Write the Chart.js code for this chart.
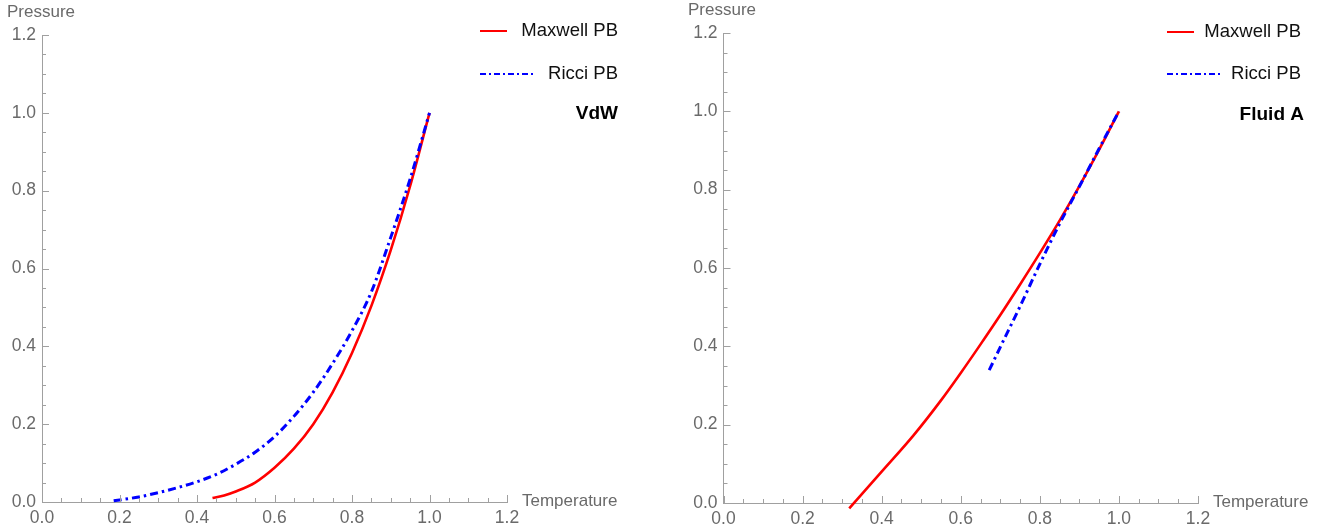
<!DOCTYPE html>
<html><head><meta charset="utf-8">
<script src="https://cdn.jsdelivr.net/npm/chart.js@4.4.1/dist/chart.umd.min.js"></script>
<style>
html,body{margin:0;padding:0;background:#fff;overflow:hidden;width:1322px;height:532px}
.p{position:absolute;top:0;width:661px;height:532px}
</style></head><body>
<div class="p" style="left:0"><canvas id="c1" width="661" height="532"></canvas></div>
<div class="p" style="left:661px"><canvas id="c2" width="661" height="532"></canvas></div>
<script>
// ---- data ----
const vdwMaxwellT = [0.44, 0.47, 0.50, 0.55, 0.60, 0.65, 0.70, 0.75, 0.80, 0.85, 0.90, 0.95, 1.00];
const vdwMaxwellP = [0.010, 0.017, 0.027, 0.050, 0.088, 0.137, 0.200, 0.282, 0.383, 0.504, 0.647, 0.812, 1.000];
const vdwRicciT = [0.185, 0.25, 0.30, 0.35, 0.40, 0.45, 0.50, 0.55, 0.60, 0.65, 0.70, 0.75, 0.80, 0.85, 0.90, 0.95, 1.00];
const vdwRicciP = [0.003, 0.013, 0.024, 0.037, 0.052, 0.071, 0.097, 0.128, 0.168, 0.220, 0.282, 0.356, 0.440, 0.540, 0.680, 0.830, 1.000];
const fluidMaxwellT = [0.318, 0.40, 0.48, 0.55, 0.60, 0.65, 0.70, 0.75, 0.80, 0.85, 0.90, 0.95, 1.00];
const fluidMaxwellP = [-0.014, 0.080, 0.172, 0.262, 0.332, 0.405, 0.480, 0.558, 0.638, 0.721, 0.809, 0.902, 1.000];
const fluidRicciT = [0.672, 0.70, 0.75, 0.80, 0.85, 0.90, 0.95, 1.00];
const fluidRicciP = [0.339, 0.398, 0.502, 0.610, 0.713, 0.808, 0.905, 1.000];
const majorTicks = [0, 0.2, 0.4, 0.6, 0.8, 1.0, 1.2];
const seriesNames = ['Maxwell PB', 'Ricci PB'];
const panelTitles = ['VdW', 'Fluid A'];
const xTitle = 'Temperature';
const yTitle = 'Pressure';

const FONT = "'Liberation Sans', Arial, sans-serif";
const AXIS = '#a0a0a0';
const LABEL = '#6a6a6a';
const RED = '#ff0000';
const BLUE = '#0000ff';
const DASH = [8, 4, 2.5, 4];

function allTicks() {
  const out = [];
  for (let i = 0; i < majorTicks.length; i++) {
    out.push(majorTicks[i]);
    if (i < majorTicks.length - 1) {
      const a = majorTicks[i], b = majorTicks[i + 1];
      for (let k = 1; k < 4; k++) out.push(a + (b - a) * k / 4);
    }
  }
  return out;
}
function isMajor(v) { return majorTicks.some(m => Math.abs(m - v) < 1e-9); }
const pts = (T, P) => T.map((t, i) => ({x: t, y: P[i]}));

const decorPlugin = {
  id: 'decor',
  afterDraw(chart) {
    const o = chart.options.plugins.decor;
    const ctx = chart.ctx;
    const xs = chart.scales.x, ys = chart.scales.y;
    const a = chart.chartArea;
    ctx.save();
    // inward tick marks
    ctx.strokeStyle = AXIS; ctx.lineWidth = 1;
    ctx.beginPath();
    allTicks().forEach(v => {
      const len = isMajor(v) ? 7 : 4;
      const px = Math.round(xs.getPixelForValue(v)) + 0.5;
      ctx.moveTo(px, a.bottom); ctx.lineTo(px, a.bottom - len);
      const py = Math.round(ys.getPixelForValue(v)) + 0.5;
      ctx.moveTo(a.left, py); ctx.lineTo(a.left + len, py);
    });
    ctx.stroke();
    // axis titles
    ctx.fillStyle = LABEL;
    ctx.font = "17px " + FONT;
    ctx.textAlign = 'left'; ctx.textBaseline = 'alphabetic';
    ctx.fillText(yTitle, o.yTitleX, o.yTitleY);
    ctx.textBaseline = 'middle';
    ctx.fillText(xTitle, a.right + o.xTitleGap, a.bottom - 1);
    // legend
    ctx.font = "18.5px " + FONT;
    ctx.fillStyle = '#111';
    ctx.textAlign = 'right';
    ctx.fillText(seriesNames[0], o.legendRight, o.legendY[0]);
    ctx.fillText(seriesNames[1], o.legendRight, o.legendY[1]);
    ctx.lineWidth = 2;
    ctx.strokeStyle = RED; ctx.setLineDash([]);
    ctx.beginPath(); ctx.moveTo(o.legendLineX, o.legendY[0]); ctx.lineTo(o.legendLineX + 27, o.legendY[0]); ctx.stroke();
    ctx.strokeStyle = BLUE; ctx.setLineDash([6, 3, 2, 3]);
    ctx.beginPath(); ctx.moveTo(o.legendLineX, o.legendY[1]); ctx.lineTo(o.legendLineX + 53, o.legendY[1]); ctx.stroke();
    ctx.setLineDash([]);
    ctx.font = "bold 19px " + FONT;
    ctx.fillStyle = '#000';
    ctx.fillText(o.title, o.titleRight, o.legendY[2]);
    ctx.restore();
  }
};

function makeChart(id, maxT, maxP, riT, riP, d) {
  return new Chart(document.getElementById(id), {
    type: 'line',
    data: {
      datasets: [
        {label: seriesNames[1], data: pts(riT, riP), borderColor: BLUE, borderWidth: 3, borderDash: DASH,
         pointRadius: 0, cubicInterpolationMode: 'monotone', fill: false, clip: false},
        {label: seriesNames[0], data: pts(maxT, maxP), borderColor: RED, borderWidth: 2.6,
         pointRadius: 0, cubicInterpolationMode: 'monotone', fill: false, clip: false}
      ]
    },
    options: {
      responsive: false, animation: false, devicePixelRatio: 1,
      layout: {padding: {left: d.padLeft, right: d.padRight, top: d.padTop, bottom: 0}},
      plugins: {legend: {display: false}, tooltip: {enabled: false}, decor: d},
      scales: {
        x: {type: 'linear', min: 0, max: 1.2,
            afterBuildTicks: s => { s.ticks = allTicks().map(v => ({value: v})); },
            afterFit: s => { s.height = d.xHeight; },
            grid: {display: true, drawOnChartArea: false, drawTicks: false},
            border: {display: true, color: AXIS, width: 1},
            ticks: {autoSkip: false, maxRotation: 0, padding: 6, color: LABEL, font: {family: FONT, size: 17.5},
                    callback: v => isMajor(v) ? Number(v).toFixed(1) : ''}},
        y: {type: 'linear', min: 0, max: 1.2,
            afterBuildTicks: s => { s.ticks = allTicks().map(v => ({value: v})); },
            afterFit: s => { s.width = d.yWidth; },
            grid: {display: true, drawOnChartArea: false, drawTicks: false},
            border: {display: true, color: AXIS, width: 1},
            ticks: {autoSkip: false, padding: 6, color: LABEL, font: {family: FONT, size: 17.5},
                    callback: v => isMajor(v) ? Number(v).toFixed(1) : ''}}
      }
    },
    plugins: [decorPlugin]
  });
}

makeChart('c1', vdwMaxwellT, vdwMaxwellP, vdwRicciT, vdwRicciP, {
  padLeft: 0, yWidth: 42, padRight: 154, padTop: 35, xHeight: 30,
  yTitleX: 7, yTitleY: 17, xTitleGap: 15,
  legendRight: 618, legendY: [31, 74, 114], legendLineX: 480, titleRight: 618, title: panelTitles[0]
});
makeChart('c2', fluidMaxwellT, fluidMaxwellP, fluidRicciT, fluidRicciP, {
  padLeft: 20, yWidth: 42.5, padRight: 124, padTop: 33, xHeight: 29,
  yTitleX: 27, yTitleY: 15, xTitleGap: 15,
  legendRight: 640, legendY: [32, 74, 115], legendLineX: 506, titleRight: 643, title: panelTitles[1]
});
</script>
</body></html>
